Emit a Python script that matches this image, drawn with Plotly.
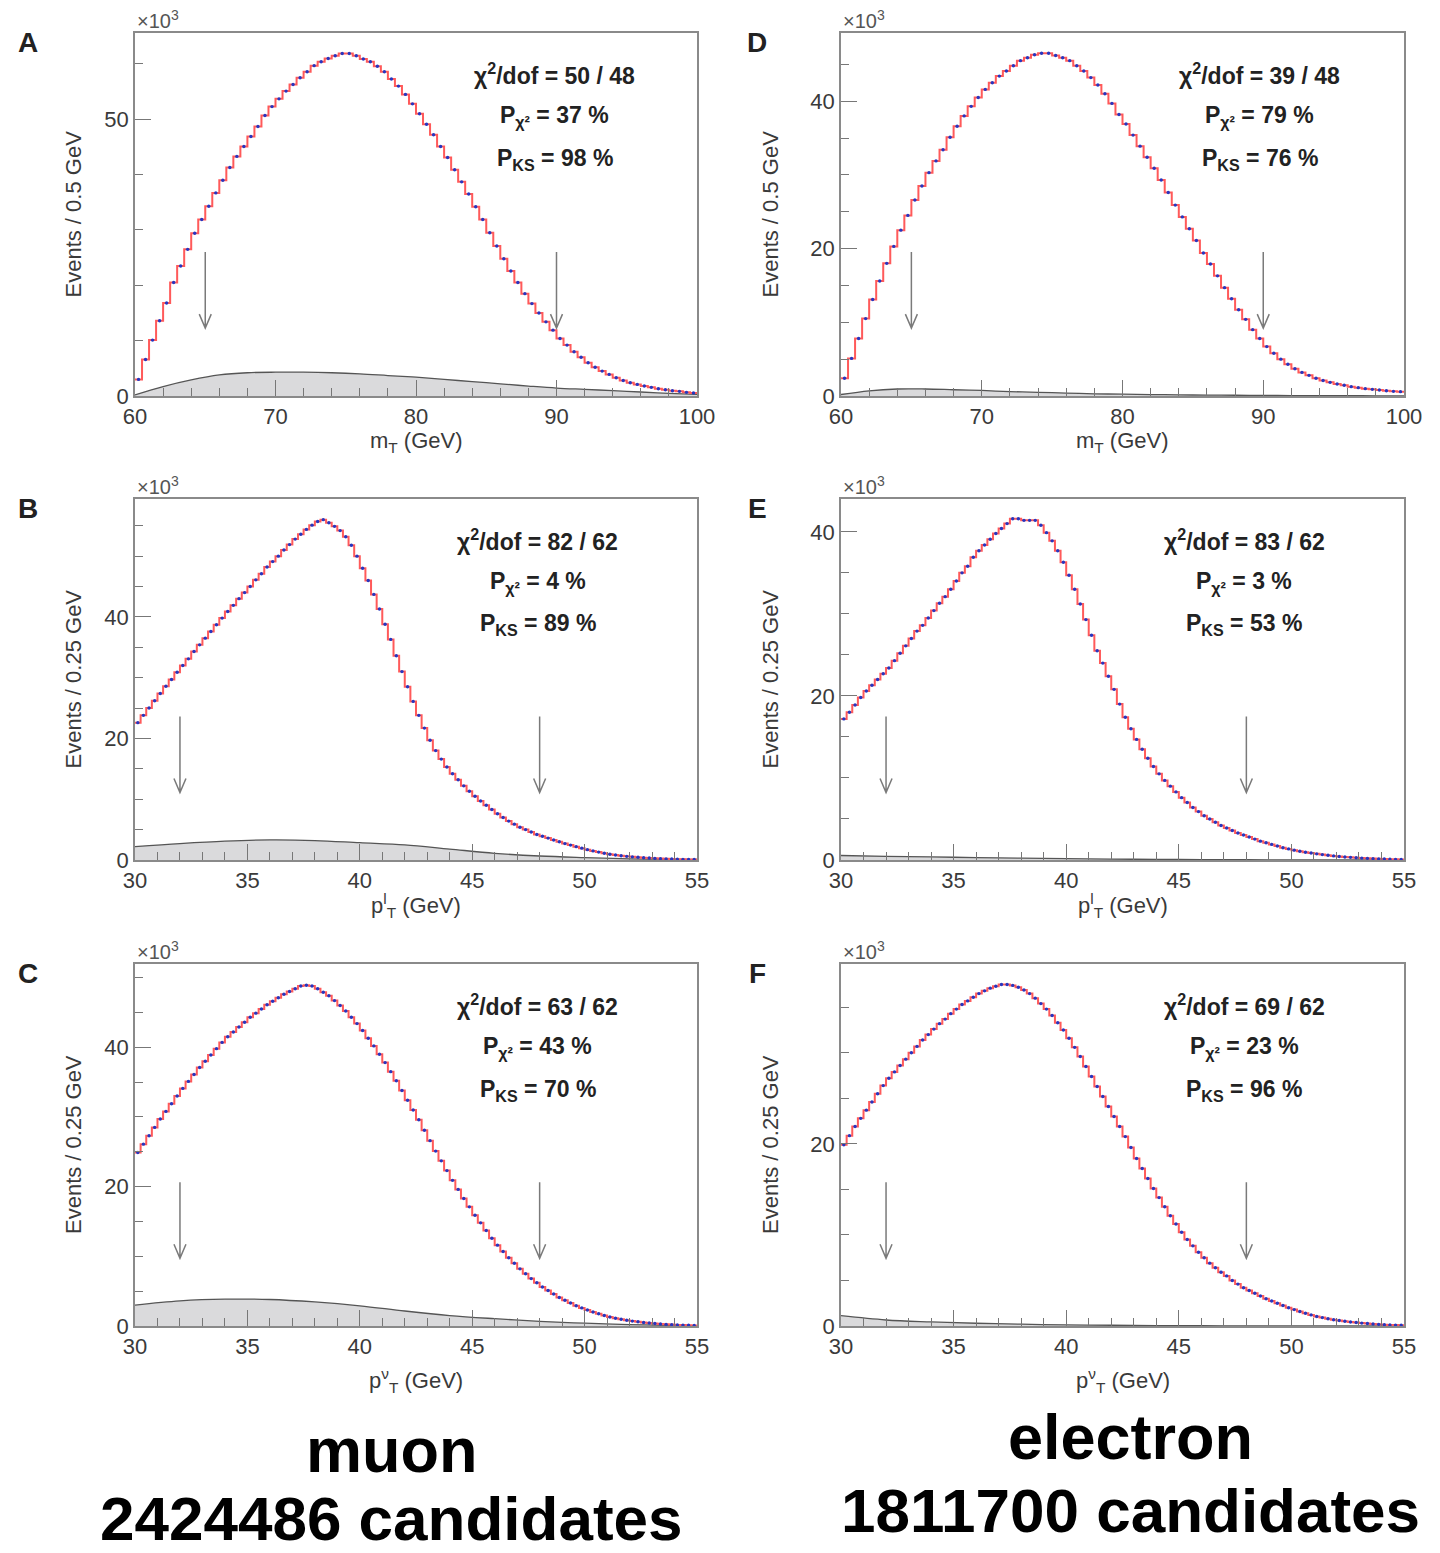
import numpy as np
import plotly.graph_objects as go

# ---------------- data (thousands of events per bin) ----------------
# m_T, muon (A): 80 bins of 0.5 GeV from 60 to 100
mt_mu = [3.0, 6.6, 10.1, 13.6, 16.8, 20.5, 23.5, 26.5, 29.4, 31.9,
         34.3, 36.7, 39.0, 41.3, 43.3, 45.1, 46.9, 48.7, 50.7, 52.3,
         53.7, 55.1, 56.3, 57.5, 58.6, 59.7, 60.4, 61.0, 61.5, 61.9,
         61.9, 61.5, 60.9, 60.4, 59.6, 58.6, 57.3, 56.0, 54.5, 52.8,
         51.0, 49.1, 47.2, 45.1, 43.1, 40.9, 38.7, 36.5, 34.2, 31.9,
         29.5, 27.1, 24.8, 22.6, 20.5, 18.5, 16.7, 15.0, 13.4, 11.9,
         10.4, 9.2, 8.0, 7.0, 6.0, 5.2, 4.5, 3.9, 3.3, 2.8,
         2.4, 2.1, 1.8, 1.56, 1.32, 1.14, 0.96, 0.84, 0.66, 0.54]
# m_T, electron (D)
mt_el = [2.4, 5.1, 7.8, 10.5, 13.1, 15.6, 18.0, 20.3, 22.5, 24.5,
         26.6, 28.5, 30.3, 31.9, 33.4, 35.1, 36.6, 38.0, 39.3, 40.5,
         41.6, 42.5, 43.4, 44.1, 44.8, 45.5, 45.9, 46.3, 46.5, 46.5,
         46.2, 45.9, 45.5, 44.8, 44.1, 43.2, 42.2, 41.0, 39.7, 38.2,
         36.9, 35.4, 33.9, 32.4, 30.9, 29.3, 27.6, 25.9, 24.3, 22.7,
         21.1, 19.4, 17.9, 16.3, 14.7, 13.2, 11.7, 10.4, 9.0, 7.8,
         6.7, 5.8, 5.0, 4.3, 3.7, 3.2, 2.8, 2.4, 2.1, 1.85,
         1.63, 1.45, 1.27, 1.13, 1.0, 0.9, 0.81, 0.72, 0.63, 0.59]
# p_T lepton, muon (B): 100 bins of 0.25 GeV from 30 to 55
ptl_mu = [22.6, 23.8, 25.0, 26.2, 27.4, 28.6, 29.7, 30.9, 32.0, 33.1,
          34.3, 35.4, 36.5, 37.6, 38.7, 39.8, 40.9, 41.9, 43.0, 44.0,
          45.0, 46.1, 47.1, 48.2, 49.1, 50.0, 51.0, 51.9, 52.8, 53.6,
          54.4, 55.1, 55.7, 56.0, 55.5, 54.9, 54.2, 53.2, 51.8, 50.0,
          48.0, 46.0, 43.7, 41.3, 38.8, 36.3, 33.6, 31.0, 28.5, 26.1,
          23.8, 21.7, 19.7, 18.0, 16.6, 15.3, 14.2, 13.2, 12.2, 11.3,
          10.5, 9.7, 9.0, 8.3, 7.6, 7.0, 6.4, 5.9, 5.4, 5.0,
          4.6, 4.2, 3.9, 3.6, 3.3, 3.0, 2.7, 2.45, 2.2, 1.95,
          1.7, 1.5, 1.3, 1.1, 0.95, 0.82, 0.7, 0.6, 0.52, 0.45,
          0.38, 0.32, 0.27, 0.23, 0.19, 0.16, 0.13, 0.11, 0.09, 0.07]
# p_T lepton, electron (E)
ptl_el = [17.2, 18.0, 18.9, 19.8, 20.6, 21.3, 22.0, 22.7, 23.4, 24.3,
          25.2, 26.1, 27.0, 27.9, 28.6, 29.5, 30.4, 31.3, 32.1, 33.0,
          34.0, 35.0, 35.8, 36.9, 37.7, 38.4, 39.1, 39.8, 40.4, 41.0,
          41.6, 41.6, 41.4, 41.4, 41.4, 40.8, 39.9, 38.9, 37.7, 36.3,
          34.7, 33.0, 31.2, 29.3, 27.4, 25.5, 24.0, 22.4, 20.8, 19.0,
          17.4, 16.0, 14.7, 13.5, 12.4, 11.4, 10.5, 9.7, 9.0, 8.3,
          7.6, 7.0, 6.4, 5.9, 5.4, 5.0, 4.6, 4.2, 3.9, 3.6,
          3.3, 3.05, 2.8, 2.55, 2.3, 2.1, 1.9, 1.7, 1.5, 1.35,
          1.2, 1.07, 0.95, 0.85, 0.75, 0.66, 0.58, 0.5, 0.43, 0.37,
          0.32, 0.27, 0.23, 0.2, 0.17, 0.14, 0.12, 0.1, 0.08, 0.06]
# p_T neutrino, muon (C)
ptnu_mu = [24.9, 26.1, 27.3, 28.5, 29.7, 30.8, 31.9, 33.0, 34.1, 35.1,
           36.1, 37.1, 38.0, 38.9, 39.8, 40.7, 41.5, 42.2, 42.9, 43.6,
           44.3, 44.9, 45.5, 46.1, 46.6, 47.1, 47.6, 48.0, 48.4, 48.8,
           48.9, 48.8, 48.4, 47.9, 47.4, 46.7, 46.0, 45.2, 44.3, 43.4,
           42.4, 41.3, 40.2, 39.0, 37.8, 36.5, 35.2, 33.8, 32.4, 31.0,
           29.6, 28.1, 26.6, 25.1, 23.7, 22.3, 20.9, 19.6, 18.3, 17.1,
           15.9, 14.8, 13.7, 12.6, 11.6, 10.7, 9.8, 9.0, 8.2, 7.5,
           6.8, 6.2, 5.6, 5.1, 4.6, 4.1, 3.7, 3.3, 2.9, 2.6,
           2.3, 2.0, 1.75, 1.5, 1.3, 1.12, 0.96, 0.82, 0.7, 0.6,
           0.5, 0.42, 0.35, 0.29, 0.24, 0.2, 0.16, 0.13, 0.1, 0.08]
# p_T neutrino, electron (F)
ptnu_el = [19.9, 20.9, 21.9, 22.8, 23.7, 24.6, 25.5, 26.4, 27.2, 27.9,
           28.6, 29.3, 30.0, 30.7, 31.4, 32.0, 32.6, 33.2, 33.7, 34.3,
           34.8, 35.3, 35.7, 36.1, 36.5, 36.8, 37.1, 37.3, 37.5, 37.5,
           37.4, 37.2, 36.9, 36.5, 36.0, 35.4, 34.8, 34.1, 33.3, 32.5,
           31.6, 30.6, 29.6, 28.5, 27.4, 26.3, 25.2, 24.1, 23.0, 21.9,
           20.8, 19.6, 18.4, 17.3, 16.2, 15.1, 14.1, 13.1, 12.1, 11.2,
           10.3, 9.5, 8.8, 8.1, 7.5, 6.9, 6.4, 5.9, 5.5, 5.0,
           4.6, 4.2, 3.9, 3.6, 3.3, 3.0, 2.75, 2.5, 2.25, 2.0,
           1.8, 1.6, 1.4, 1.22, 1.05, 0.92, 0.8, 0.69, 0.6, 0.52,
           0.44, 0.38, 0.32, 0.27, 0.22, 0.18, 0.15, 0.12, 0.1, 0.08]

# backgrounds (smooth curves)
mt_bg_x = [60, 62, 64, 66, 68, 70, 72, 74, 76, 78, 80, 82, 84, 86, 88, 90, 92, 94, 96, 98, 100]
mt_mu_bg = [0.2, 1.7, 2.9, 3.8, 4.2, 4.3, 4.3, 4.2, 4.0, 3.7, 3.4, 3.0, 2.6, 2.2, 1.8, 1.44, 1.2, 0.96, 0.72, 0.48, 0.3]
mt_el_bg = [0.2, 0.7, 0.95, 0.95, 0.85, 0.75, 0.6, 0.5, 0.4, 0.3, 0.25, 0.2, 0.15, 0.12, 0.1, 0.08, 0.06, 0.05, 0.04, 0.03, 0.02]
pt_bg_x = [30, 32, 34, 36, 38, 40, 42, 44, 46, 48, 50, 52, 54, 55]
ptl_mu_bg = [2.2, 2.7, 3.1, 3.3, 3.2, 2.85, 2.5, 1.8, 1.1, 0.66, 0.4, 0.2, 0.1, 0.08]
ptl_el_bg = [0.55, 0.45, 0.37, 0.3, 0.22, 0.16, 0.11, 0.08, 0.05, 0.03, 0.02, 0.01, 0.01, 0.01]
ptnu_mu_bg = [3.0, 3.6, 3.85, 3.8, 3.45, 2.9, 2.15, 1.5, 1.05, 0.67, 0.4, 0.2, 0.07, 0.04]
ptnu_el_bg = [1.13, 0.66, 0.45, 0.3, 0.2, 0.12, 0.08, 0.05, 0.03, 0.02, 0.01, 0.01, 0.005, 0.0]

stats = {
    "A": ("50 / 48", "37 %", "98 %"),
    "B": ("82 / 62", "4 %", "89 %"),
    "C": ("63 / 62", "43 %", "70 %"),
    "D": ("39 / 48", "79 %", "76 %"),
    "E": ("83 / 62", "3 %", "53 %"),
    "F": ("69 / 62", "23 %", "96 %"),
}
mt_ticks = [60, 70, 80, 90, 100]
pt_ticks = [30, 35, 40, 45, 50, 55]
mt_cuts = [65, 90]
pt_cuts = [32, 48]

# ---------------- layout geometry ----------------
W, H = 1440, 1553
colx = [(135, 697), (841, 1404)]
rowy = [(33, 396), (499, 860), (964, 1326)]
xtitle_y = [442, 905, 1380]

FONT = "Liberation Sans, Arial, Helvetica, sans-serif"
RED = "#ff5a5a"
BLUE = "#2636c0"
AXC = "#8a8a8a"
TXT = "#3a3a3a"

panels = [
    dict(key="A", col=0, row=0, kind="mt", data=mt_mu, bgx=mt_bg_x, bg=mt_mu_bg, ymax=65.6,
         ymaj=[0, 50], ystep=10, ytitle="Events / 0.5 GeV", xtitle="m<sub>T</sub> (GeV)", sx=0.747),
    dict(key="B", col=0, row=1, kind="pt", data=ptl_mu, bgx=pt_bg_x, bg=ptl_mu_bg, ymax=59.4,
         ymaj=[0, 20, 40], ystep=5, ytitle="Events / 0.25 GeV", xtitle="p<sup>l</sup><sub>T</sub> (GeV)", sx=0.717),
    dict(key="C", col=0, row=2, kind="pt", data=ptnu_mu, bgx=pt_bg_x, bg=ptnu_mu_bg, ymax=51.95,
         ymaj=[0, 20, 40], ystep=5, ytitle="Events / 0.25 GeV", xtitle="p<sup>ν</sup><sub>T</sub> (GeV)", sx=0.717),
    dict(key="D", col=1, row=0, kind="mt", data=mt_el, bgx=mt_bg_x, bg=mt_el_bg, ymax=49.25,
         ymaj=[0, 20, 40], ystep=5, ytitle="Events / 0.5 GeV", xtitle="m<sub>T</sub> (GeV)", sx=0.744),
    dict(key="E", col=1, row=1, kind="pt", data=ptl_el, bgx=pt_bg_x, bg=ptl_el_bg, ymax=44.0,
         ymaj=[0, 20, 40], ystep=5, ytitle="Events / 0.25 GeV", xtitle="p<sup>l</sup><sub>T</sub> (GeV)", sx=0.716),
    dict(key="F", col=1, row=2, kind="pt", data=ptnu_el, bgx=pt_bg_x, bg=ptnu_el_bg, ymax=39.75,
         ymaj=[0, 20], ystep=5, ytitle="Events / 0.25 GeV", xtitle="p<sup>ν</sup><sub>T</sub> (GeV)", sx=0.716),
]

fig = go.Figure()
annotations = []
shapes = []
layout_axes = {}

for i, p in enumerate(panels, start=1):
    xa = "x" if i == 1 else f"x{i}"
    ya = "y" if i == 1 else f"y{i}"
    vals = p["data"]
    if p["kind"] == "mt":
        lo, hi = 60, 100
        majx = mt_ticks
        minx = [v for v in range(62, 100, 2) if v not in majx]
        cuts = mt_cuts
    else:
        lo, hi = 30, 55
        majx = pt_ticks
        minx = [v for v in range(31, 55) if v not in majx]
        cuts = pt_cuts
    n = len(vals)
    edges = np.linspace(lo, hi, n + 1)
    centers = 0.5 * (edges[:-1] + edges[1:])

    # background (filled grey)
    fig.add_trace(go.Scatter(x=p["bgx"], y=p["bg"], mode="lines", line=dict(color="#555555", width=1.3, shape="spline"),
                             fill="tozeroy", fillcolor="#dadadc", xaxis=xa, yaxis=ya, showlegend=False, hoverinfo="skip"))
    # model (red step)
    fig.add_trace(go.Scatter(x=edges, y=list(vals) + [vals[-1]], mode="lines", line=dict(color=RED, width=2.0, shape="hv"),
                             xaxis=xa, yaxis=ya, showlegend=False, hoverinfo="skip"))
    # data (blue points)
    fig.add_trace(go.Scatter(x=centers, y=vals, mode="markers",
                             marker=dict(symbol="circle", size=3.4, color=BLUE, line=dict(width=0)),
                             xaxis=xa, yaxis=ya, showlegend=False, hoverinfo="skip"))

    x0, x1 = colx[p["col"]]
    yt, yb = rowy[p["row"]]
    xdom = [x0 / W, x1 / W]
    ydom = [1 - yb / H, 1 - yt / H]
    miny = [v for v in np.arange(0, p["ymax"], p["ystep"]).tolist() if v not in p["ymaj"]]

    layout_axes["xaxis" if i == 1 else f"xaxis{i}"] = dict(
        domain=xdom, range=[lo, hi], anchor=ya, showgrid=False, zeroline=False, automargin=False,
        showline=True, mirror=True, linecolor=AXC, linewidth=1.5,
        tickmode="array", tickvals=majx, ticktext=[str(v) for v in majx],
        ticks="inside", ticklen=16, tickwidth=1.2, tickcolor="#777",
        tickfont=dict(family=FONT, size=22, color=TXT),
        minor=dict(tickmode="array", tickvals=minx, ticks="inside", ticklen=8, tickwidth=1.1, tickcolor="#777", showgrid=False),
    )
    layout_axes["yaxis" if i == 1 else f"yaxis{i}"] = dict(
        domain=ydom, range=[0, p["ymax"]], anchor=xa, showgrid=False, zeroline=False, automargin=False,
        showline=True, mirror=True, linecolor=AXC, linewidth=1.5,
        tickmode="array", tickvals=p["ymaj"], ticktext=[str(v) for v in p["ymaj"]],
        ticks="inside", ticklen=16, tickwidth=1.2, tickcolor="#777",
        tickfont=dict(family=FONT, size=22, color=TXT),
        minor=dict(tickmode="array", tickvals=miny, ticks="inside", ticklen=8, tickwidth=1.1, tickcolor="#777", showgrid=False),
    )

    # x10^3
    annotations.append(dict(text="×10<sup>3</sup>", xref=f"{xa} domain", yref=f"{ya} domain", x=0, y=1,
                            xanchor="left", yanchor="bottom", yshift=-1, showarrow=False,
                            font=dict(family=FONT, size=20, color="#555")))
    # panel letter
    annotations.append(dict(text=p["key"], xref="paper", yref="paper",
                            x=(28 if p["col"] == 0 else 757) / W, y=1 - (yt + 9) / H,
                            xanchor="center", yanchor="middle", showarrow=False,
                            font=dict(family="Liberation Sans Narrow, Liberation Sans, Arial", size=28, color="#222", weight="bold")))
    # y title
    annotations.append(dict(text=p["ytitle"], xref="paper", yref=f"{ya} domain",
                            x=(73 if p["col"] == 0 else 770) / W, y=0.5, textangle=-90,
                            xanchor="center", yanchor="middle", showarrow=False,
                            font=dict(family=FONT, size=22, color=TXT)))
    # x title
    annotations.append(dict(text=p["xtitle"], xref=f"{xa} domain", yref="paper",
                            x=0.5, y=1 - xtitle_y[p["row"]] / H,
                            xanchor="center", yanchor="middle", showarrow=False,
                            font=dict(family=FONT, size=22, color=TXT)))
    # stats
    chi, pchi, pks = stats[p["key"]]
    for txt, yy in [(f"χ<sup>2</sup>/dof = {chi}", 0.887), (f"P<sub>χ²</sub> = {pchi}", 0.769), (f"P<sub>KS</sub> = {pks}", 0.651)]:
        annotations.append(dict(text=txt, xref=f"{xa} domain", yref=f"{ya} domain", x=p["sx"], y=yy,
                                xanchor="center", yanchor="middle", showarrow=False,
                                font=dict(family=FONT, size=23, color="#222", weight="bold")))
    # cut arrows
    for c in cuts:
        shapes.append(dict(type="path", xref=xa, yref=f"{ya} domain", xsizemode="pixel", ysizemode="pixel",
                           xanchor=c, yanchor=0.187, path="M0,0 L0,76 M-6,14 L0,0 L6,14",
                           line=dict(color="#7a7a7a", width=1.5)))

# bottom captions
for txt, xc, yc, fs in [("muon", 392, 1450, 63), ("2424486 candidates", 392, 1518, 62),
                        ("electron", 1130, 1437, 63), ("1811700 candidates", 1130, 1510, 62)]:
    annotations.append(dict(text=txt, xref="paper", yref="paper", x=xc / W, y=1 - yc / H,
                            xanchor="center", yanchor="middle", showarrow=False,
                            font=dict(family=FONT, size=fs, color="#000", weight="bold")))

fig.update_layout(width=W, height=H, margin=dict(l=0, r=0, t=0, b=0, autoexpand=False),
                  paper_bgcolor="white", plot_bgcolor="white",
                  annotations=annotations, shapes=shapes, **layout_axes)

fig.write_html("out.html", config={"displayModeBar": False},
               post_script="document.body.style.margin='0';document.body.style.padding='0';")
